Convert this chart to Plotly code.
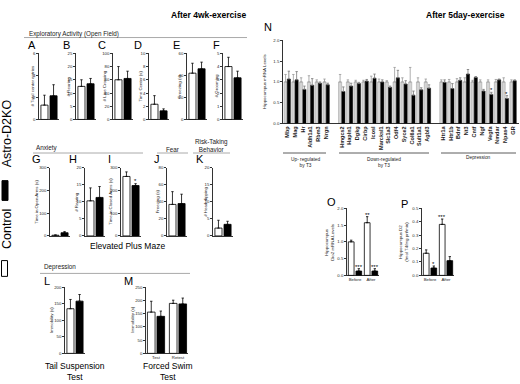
import plotly.graph_objects as go

W, H = 520, 384
FONT = "Arial, Liberation Sans, sans-serif"

# ---------------- data ----------------
# Open field (A-F)
of_titles = ["# Total center entries", "# Rearing", "# Line Crossing", "Time Center (s)", "Freezing (s)", "# Grooming"]
of_ctrl = [1.3, 12.5, 60, 2.3, 42, 4.0]
of_ctrl_err = [0.9, 2.5, 20, 1.3, 9, 0.7]
of_ko = [2.15, 13.5, 62, 1.3, 46, 3.15]
of_ko_err = [1.0, 2.0, 11, 0.3, 6, 0.5]
of_ymax = [6, 25, 100, 10, 60, 5]
of_dtick = [2, 5, 20, 2, 20, 1]

# Elevated plus maze / fear / risk-taking (G-K)
epm_titles = ["Time in Open Arms (s)", "# Rearing", "Time in Closed Arms (s)", "Freezing (s)", "# Head-dipping"]
epm_ctrl = [3, 10.3, 262, 37, 2.3]
epm_ctrl_err = [1.5, 3.8, 20, 15, 2.3]
epm_ko = [14, 11.3, 222, 38, 3.4]
epm_ko_err = [5, 3.2, 8, 11, 0.9]
epm_ymax = [300, 20, 300, 80, 20]
epm_dtick = [100, 5, 100, 20, 5]

# Depression (L, M)
tst_ctrl, tst_ctrl_err = [135], [28]
tst_ko, tst_ko_err = [158], [20]
fst_labels = ["Test", "Retest"]
fst_ctrl = [156, 189]
fst_ctrl_err = [41, 12]
fst_ko = [140, 187]
fst_ko_err = [20, 22]

# Panel N
genes_up = ["Mbp", "Mag", "Hr", "Aldh1a1", "Rbm3", "Nrgn"]
genes_down = ["Hmgcs2", "Hapln1", "Dgkg", "Cirbp", "Icosl", "Marcksl1", "Slc1a3", "Odf4", "Syce2", "Col6a1", "Sult1a1", "Agbl3"]
genes_dep = ["Htr1a", "Htr1b", "Bdnf", "Nt3", "Cntf", "Ngf", "Vegfa", "Nmdar", "Npas4", "GR"]
n_ctrl = [1.0] * 28
n_ctrl_err = [0.18, 0.18, 0.10, 0.15, 0.05, 0.07,
              0.18, 0.05, 0.04, 0.04, 0.14, 0.07, 0.03, 0.35, 0.10, 0.35, 0.10, 0.07,
              0.05, 0.06, 0.08, 0.10, 0.04, 0.05, 0.05, 0.06, 0.10, 0.05]
n_ko = [1.07, 1.05, 0.82, 0.92, 0.97, 0.93,
        0.77, 0.90, 0.96, 1.02, 1.09, 1.00, 0.87, 1.10, 0.95, 0.68, 0.81, 0.85,
        0.99, 0.84, 1.04, 1.19, 1.11, 0.78, 0.70, 1.05, 0.60, 1.03]
n_ko_err = [0.19, 0.20, 0.08, 0.16, 0.03, 0.04,
            0.11, 0.07, 0.03, 0.04, 0.10, 0.05, 0.03, 0.18, 0.08, 0.10, 0.05, 0.08,
            0.06, 0.12, 0.06, 0.11, 0.02, 0.04, 0.05, 0.02, 0.07, 0.02]
n_pos = [0, 1, 2, 3, 4, 5] + list(range(7, 19)) + list(range(20, 30))
n_star = ["Vegfa", "Npas4"]

# Panel O (Dio2 mRNA) and P (D2 activity)
time_labels = ["Before", "After"]
o_ctrl, o_ctrl_err = [1.0, 1.57], [0.05, 0.18]
o_ko, o_ko_err = [0.13, 0.13], [0.07, 0.07]
p_ctrl, p_ctrl_err = [0.165, 0.38], [0.025, 0.04]
p_ko, p_ko_err = [0.055, 0.11], [0.015, 0.03]

# ---------------- helpers ----------------
TICK = 4.3
YT = 4.4

def fx(p):
    return p / W

def fy(p):
    return 1 - p / H

fig = go.Figure()
layout = {}
annotations = []
shapes = []
axis_count = [0]

def text(x, y, s, size=6, xanchor="center", yanchor="middle", bold=False, angle=0, color="#222"):
    annotations.append(dict(x=fx(x), y=fy(y), xref="paper", yref="paper", text=(f"<b>{s}</b>" if bold else s),
                            showarrow=False, xanchor=xanchor, yanchor=yanchor, textangle=angle,
                            font=dict(family=FONT, size=size, color=color)))

def hline(x0, x1, y, color="#aaaaaa", width=1):
    shapes.append(dict(type="line", xref="paper", yref="paper", x0=fx(x0), x1=fx(x1), y0=fy(y), y1=fy(y),
                       line=dict(color=color, width=width)))

def new_axes(x0, x1, ytop, ybot, xrange, yrange, dtick, tickvals=None, ticktext=None, tickfmt=None,
             xtickangle=0, xtickfont=TICK):
    axis_count[0] += 1
    n = axis_count[0]
    sx = "" if n == 1 else str(n)
    layout["xaxis" + sx] = dict(domain=[fx(x0), fx(x1)], range=xrange, anchor="y" + sx,
                                showline=True, linecolor="black", linewidth=0.8, ticks="",
                                showgrid=False, zeroline=False, fixedrange=True,
                                tickmode="array", tickvals=tickvals or [], ticktext=ticktext or [],
                                tickangle=xtickangle, ticklen=0,
                                tickfont=dict(family=FONT, size=xtickfont, color="#222"))
    layout["yaxis" + sx] = dict(domain=[fy(ybot), fy(ytop)], range=yrange, anchor="x" + sx,
                                showline=True, linecolor="black", linewidth=0.8, ticks="outside",
                                ticklen=2, tickwidth=0.8, tickcolor="black", dtick=dtick, tick0=0,
                                showgrid=False, zeroline=False, fixedrange=True,
                                tickformat=tickfmt,
                                tickfont=dict(family=FONT, size=TICK, color="#222"))
    return "x" + sx, "y" + sx

def err(arr, color="black"):
    return dict(type="data", array=arr, arrayminus=[0] * len(arr), symmetric=False,
                thickness=0.8, width=1.2, color=color)

def pair_panel(x0, ytop, ybot, c, ce, k, ke, ymax, dtick, title, title_x, width=20):
    xa, ya = new_axes(x0, x0 + width, ytop, ybot, [-0.6, 1.6], [0, ymax], dtick)
    fig.add_trace(go.Bar(x=[0, 1], y=[c, k], xaxis=xa, yaxis=ya, width=0.78,
                         marker=dict(color=["white", "black"], line=dict(color="black", width=0.8)),
                         error_y=err([ce, ke]), showlegend=False, hoverinfo="skip"))
    text(title_x, (ytop + ybot) / 2, title, size=YT, angle=-90)
    return xa, ya

# ---------------- Row 1: open field ----------------
of_x = [39, 76, 113, 149, 187, 223]
of_tx = [32, 68, 104, 140, 179, 216]
for i in range(6):
    pair_panel(of_x[i], 52, 119, of_ctrl[i], of_ctrl_err[i], of_ko[i], of_ko_err[i],
               of_ymax[i], of_dtick[i], of_titles[i], of_tx[i])
for lab, lx in zip("ABCDEF", [26, 61, 96, 132, 171, 211]):
    text(lx, 44, lab, size=11, xanchor="left", color="black")

# ---------------- Row 2: EPM etc ----------------
epm_x = [50, 85, 121, 167, 213]
epm_tx = [37, 77, 111, 157.5, 206]
epm_axes = []
for i in range(5):
    epm_axes.append(pair_panel(epm_x[i], 168, 237, epm_ctrl[i], epm_ctrl_err[i], epm_ko[i], epm_ko_err[i],
                               epm_ymax[i], epm_dtick[i], epm_titles[i], epm_tx[i]))
for lab, lx in zip("GHIJK", [30, 67, 106, 151.5, 194]):
    text(lx, 159.5, lab, size=11, xanchor="left", color="black")
xa, ya = epm_axes[2]
annotations.append(dict(x=1, y=epm_ko[2] + epm_ko_err[2], xref=xa, yref=ya, text="*", showarrow=False,
                        yanchor="bottom", font=dict(family=FONT, size=6, color="black"), yshift=-2))

# ---------------- Row 3: depression ----------------
pair_panel(65, 289, 356, tst_ctrl[0], tst_ctrl_err[0], tst_ko[0], tst_ko_err[0], 200, 50, "Immobility (s)", 51)
xa, ya = new_axes(146, 188, 289, 356, [-0.55, 3.85], [0, 250], 50,
                  tickvals=[0.5, 2.8], ticktext=fst_labels)
fig.add_trace(go.Bar(x=[0, 2.3], y=fst_ctrl, xaxis=xa, yaxis=ya, width=0.8,
                     marker=dict(color="white", line=dict(color="black", width=0.8)),
                     error_y=err(fst_ctrl_err), showlegend=False, hoverinfo="skip"))
fig.add_trace(go.Bar(x=[1, 3.3], y=fst_ko, xaxis=xa, yaxis=ya, width=0.8,
                     marker=dict(color="black", line=dict(color="black", width=0.8)),
                     error_y=err(fst_ko_err), showlegend=False, hoverinfo="skip"))
text(133, 322, "Immobility (s)", size=YT, angle=-90)
text(42, 283, "L", size=11, xanchor="left", color="black")
text(122, 283, "M", size=11, xanchor="left", color="black")

# ---------------- Panel N ----------------
genes = genes_up + genes_down + genes_dep
xa, ya = new_axes(283, 519, 39, 123, [-0.55, 29.75], [0, 2.0], 0.5,
                  tickvals=n_pos, ticktext=[f"<b>{g}</b>" for g in genes], tickfmt=".1f",
                  xtickangle=-90, xtickfont=5.5)
fig.add_trace(go.Bar(x=n_pos, y=n_ctrl, xaxis=xa, yaxis=ya, width=0.4, offset=-0.42,
                     marker=dict(color="#d4d4d4", line=dict(color="#999999", width=0.5)),
                     error_y=err(n_ctrl_err, "#999999"), showlegend=False, hoverinfo="skip"))
fig.add_trace(go.Bar(x=n_pos, y=n_ko, xaxis=xa, yaxis=ya, width=0.4, offset=0.0,
                     marker=dict(color="black", line=dict(color="black", width=0.5)),
                     error_y=err(n_ko_err, "#777777"), showlegend=False, hoverinfo="skip"))
for g in n_star:
    i = genes.index(g)
    annotations.append(dict(x=n_pos[i] + 0.2, y=n_ko[i] + n_ko_err[i], xref=xa, yref=ya, text="*",
                            showarrow=False, yanchor="bottom", yshift=-3,
                            font=dict(family=FONT, size=6, color="black")))
text(265, 81, "Hippocampus mRNA Levels", size=YT, angle=-90)
text(262, 25, "N", size=11, xanchor="left", color="black")
hline(283, 326, 153, color="#333333", width=0.8)
hline(339, 429, 153, color="#333333", width=0.8)
hline(441, 516, 153, color="#333333", width=0.8)
text(305, 163, "Up- regulated<br>by T3", size=4.8)
text(384, 163, "Down-regulated<br>by T3", size=4.8)
text(478, 158, "Depression", size=4.8)

# ---------------- Panel O ----------------
xa, ya = new_axes(347, 379, 209, 277, [-0.55, 3.65], [0, 2.0], 0.5,
                  tickvals=[0.5, 2.6], ticktext=time_labels, tickfmt=".1f")
fig.add_trace(go.Bar(x=[0, 2.1], y=o_ctrl, xaxis=xa, yaxis=ya, width=0.75,
                     marker=dict(color="white", line=dict(color="black", width=0.8)),
                     error_y=err(o_ctrl_err), showlegend=False, hoverinfo="skip"))
fig.add_trace(go.Bar(x=[1, 3.1], y=o_ko, xaxis=xa, yaxis=ya, width=0.75,
                     marker=dict(color="black", line=dict(color="black", width=0.8)),
                     error_y=err(o_ko_err), showlegend=False, hoverinfo="skip"))
for xv, yv, s in [(1, o_ko[0] + o_ko_err[0], "***"), (2.1, o_ctrl[1] + o_ctrl_err[1], "**"),
                  (3.1, o_ko[1] + o_ko_err[1], "***")]:
    annotations.append(dict(x=xv, y=yv, xref=xa, yref=ya, text=s, showarrow=False, yanchor="bottom",
                            yshift=-3, font=dict(family=FONT, size=6, color="black")))
text(330, 243, "Hippocampus<br>Dio2 mRNA Levels", size=YT, angle=-90)
text(325, 203, "O", size=11, xanchor="left", color="black")

# ---------------- Panel P ----------------
xa, ya = new_axes(422, 454, 209, 277, [-0.55, 3.65], [0, 0.5], 0.1,
                  tickvals=[0.5, 2.6], ticktext=time_labels, tickfmt=".1f")
fig.add_trace(go.Bar(x=[0, 2.1], y=p_ctrl, xaxis=xa, yaxis=ya, width=0.75,
                     marker=dict(color="white", line=dict(color="black", width=0.8)),
                     error_y=err(p_ctrl_err), showlegend=False, hoverinfo="skip"))
fig.add_trace(go.Bar(x=[1, 3.1], y=p_ko, xaxis=xa, yaxis=ya, width=0.75,
                     marker=dict(color="black", line=dict(color="black", width=0.8)),
                     error_y=err(p_ko_err), showlegend=False, hoverinfo="skip"))
for xv, yv, s in [(1, p_ko[0] + p_ko_err[0], "*"), (2.1, p_ctrl[1] + p_ctrl_err[1], "***")]:
    annotations.append(dict(x=xv, y=yv, xref=xa, yref=ya, text=s, showarrow=False, yanchor="bottom",
                            yshift=-3, font=dict(family=FONT, size=6, color="black")))
text(404, 243, "Hippocampus D2<br>(fmol T4/mg prt/min)", size=YT, angle=-90)
text(399, 205, "P", size=11, xanchor="left", color="black")

# ---------------- Section titles ----------------
text(208, 13, "After 4wk-exercise", size=8.5, bold=True, color="black")
text(465, 13, "After 5day-exercise", size=8.5, bold=True, color="black")
text(27, 32, "Exploratory Activity (Open Field)", size=6.3, xanchor="left")
hline(24, 247, 36)
text(34, 148, "Anxiety", size=6.3, xanchor="left")
hline(33, 143, 153)
text(164, 149, "Fear", size=6.3, xanchor="left")
hline(157, 188, 153)
text(211, 145, "Risk-Taking<br>Behavior", size=6.3)
hline(193, 230, 153)
text(127, 247, "Elevated Plus Maze", size=8.5, color="black")
text(42, 269, "Depression", size=6.3, xanchor="left")
hline(40, 190, 275)
text(75, 374, "Tail Suspension<br>Test", size=8.5, color="black")
text(168, 374, "Forced Swim<br>Test", size=8.5, color="black")

# ---------------- Legend (rotated) ----------------
shapes.append(dict(type="rect", xref="paper", yref="paper", x0=fx(1.5), x1=fx(7.5), y0=fy(278), y1=fy(262),
                   line=dict(color="black", width=1), fillcolor="white"))
shapes.append(dict(type="rect", xref="paper", yref="paper", x0=fx(2), x1=fx(8), y0=fy(201), y1=fy(181),
                   line=dict(color="black", width=1), fillcolor="black"))
text(7, 230, "Control", size=12.5, angle=-90, color="black")
text(7, 133, "Astro-D2KO", size=12.5, angle=-90, color="black")

layout.update(dict(width=W, height=H, margin=dict(l=0, r=0, t=0, b=0), paper_bgcolor="white",
                   plot_bgcolor="white", annotations=annotations, shapes=shapes, barmode="overlay",
                   showlegend=False, font=dict(family=FONT), hovermode=False))
fig.update_layout(**layout)
fig.write_html("out.html", config={"displayModeBar": False, "staticPlot": True},
               post_script="document.body.style.margin='0px';document.body.style.overflow='hidden';")
